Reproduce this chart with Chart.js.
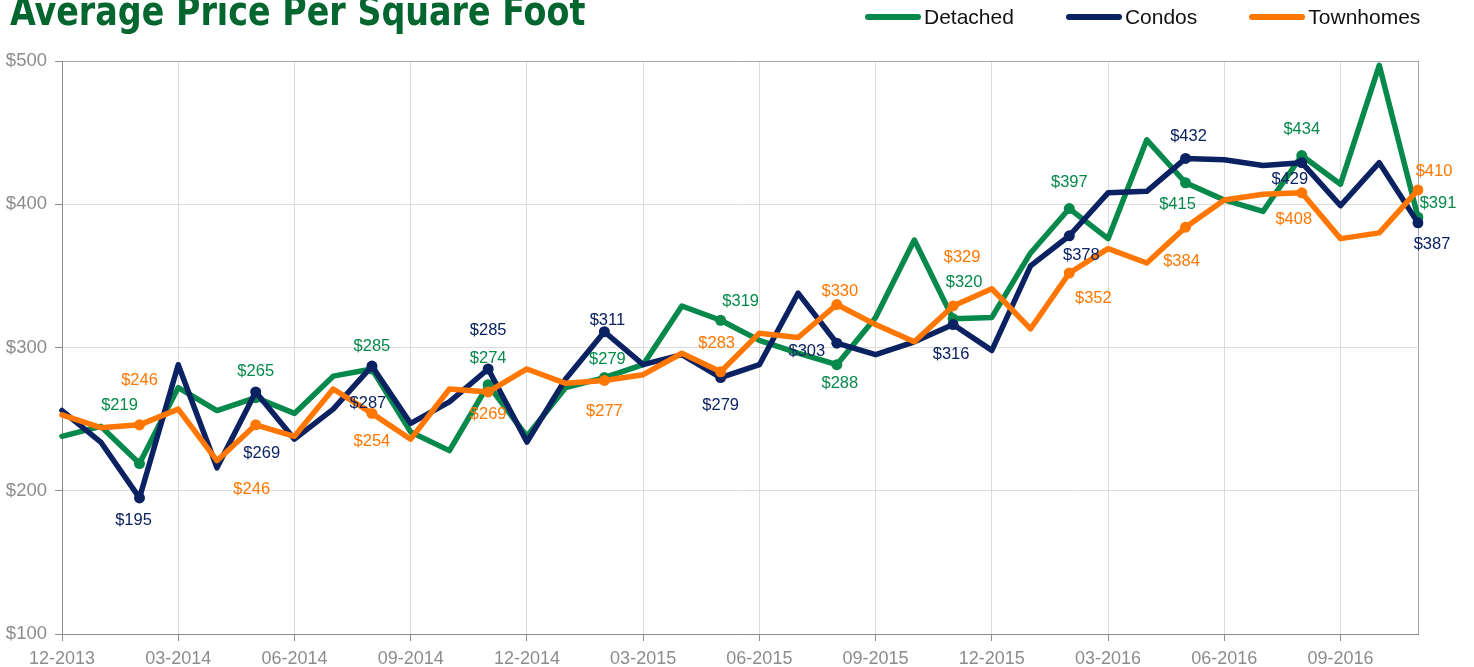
<!DOCTYPE html>
<html>
<head>
<meta charset="utf-8">
<title>Average Price Per Square Foot</title>
<script src="https://cdn.jsdelivr.net/npm/chart.js@4.4.1/dist/chart.umd.min.js"></script>
<style>
  html, body { margin: 0; padding: 0; background: #fff; overflow: hidden; }
  #wrap { position: relative; width: 1474px; height: 667px; }
  #title {
    position: absolute; left: 10px; top: -9px; margin: 0;
    font-family: "Liberation Sans Narrow", "DejaVu Sans Condensed", "Liberation Sans", sans-serif;
    font-stretch: condensed; font-weight: bold; font-size: 40px; line-height: 40px;
    color: #03662f; white-space: nowrap;
    transform: scaleX(0.927); transform-origin: 0 0;
  }
  #legend {
    position: absolute; left: 865px; top: 5px; display: flex; gap: 52px;
    font-family: "Liberation Sans", Arial, sans-serif; font-size: 21px; line-height: 24px; color: #111;
  }
  #legend .item { display: flex; align-items: center; gap: 3px; }
  #legend .swatch { width: 56px; height: 6px; border-radius: 3px; }
</style>
</head>
<body>
<div id="wrap">
  <canvas id="myChart"></canvas>
  <div id="title">Average Price Per Square Foot</div>
  <div id="legend"></div>
</div>
<script>
// months 12-2013 .. 11-2016
var months = [
  "12-2013", "01-2014", "02-2014", "03-2014", "04-2014", "05-2014", "06-2014", "07-2014", "08-2014",
  "09-2014", "10-2014", "11-2014", "12-2014", "01-2015", "02-2015", "03-2015", "04-2015", "05-2015",
  "06-2015", "07-2015", "08-2015", "09-2015", "10-2015", "11-2015", "12-2015", "01-2016", "02-2016",
  "03-2016", "04-2016", "05-2016", "06-2016", "07-2016", "08-2016", "09-2016", "10-2016", "11-2016"
];

var detached = [238, 245, 219, 272, 256, 265, 254, 280, 285, 241, 228, 274,
  238, 272, 279, 288, 329, 319, 305, 296, 288, 321, 375, 320,
  321, 366, 397, 376, 445, 415, 403, 395, 434, 414, 497, 391];
var condos = [256, 234, 195, 288, 216, 269, 236, 257, 287, 247, 262, 285,
  234, 278, 311, 288, 295, 279, 288, 338, 303, 295, 304, 316,
  298, 357, 378, 408, 409, 432, 431, 427, 429, 399, 429, 387];
var townhomes = [253, 244, 246, 257, 221, 246, 238, 271, 254, 236, 271, 269,
  285, 275, 277, 281, 296, 283, 310, 307, 330, 316, 304, 329,
  341, 313, 352, 369, 359, 384, 403, 407, 408, 376, 380, 410];

var yTicks = [100, 200, 300, 400, 500];

// label nudges (px) for the labelled points: index 2, 5, 8, ... 35
var detachedDx = [-20, 0, 0, 0, 3, 20, 3, 11, 0, -8, 0, 20];
var detachedDy = [-58, -26, -23, -26, -18, -19, 19, -36, -26, 22, -26, -14];
var condosDx = [-6, 6, -4, 0, 3, 0, -30, -2, 12, 3, -12, 14];
var condosDy = [23, 62, 37, -39, -11, 28, 8, 30, 20, -22, 17, 22];
var townDx = [0, -4, 0, 0, 0, -4, 3, 9, 24, -4, -8, 16];
var townDy = [-44, 65, 28, 23, 31, -28, -13, -49, 25, 34, 27, -18];

var GREEN = "#06894a", NAVY = "#0b2262", ORANGE = "#ff7700";
var AXIS = "#8c8c8c", GRID = "#dcdcdc";

function isMarked(i) { return i % 3 === 2; }

function series(label, values, color, order, dx, dy) {
  return {
    label: label,
    data: values,
    borderColor: color,
    backgroundColor: color,
    borderWidth: 5.5,
    borderJoinStyle: "round",
    borderCapStyle: "round",
    tension: 0,
    order: order,
    pointRadius: function (c) { return isMarked(c.dataIndex) ? 5.5 : 0; },
    pointHoverRadius: 0,
    pointBorderWidth: 0,
    pointBackgroundColor: color,
    labelDx: dx,
    labelDy: dy
  };
}

var legendBox = document.getElementById("legend");
[["Detached", GREEN], ["Condos", NAVY], ["Townhomes", ORANGE]].forEach(function (it) {
  var d = document.createElement("div");
  d.className = "item";
  d.innerHTML = '<span class="swatch" style="background:' + it[1] + '"></span><span>' + it[0] + "</span>";
  legendBox.appendChild(d);
});

var pointLabels = {
  id: "pointLabels",
  afterDatasetsDraw: function (chart) {
    var ctx = chart.ctx;
    ctx.save();
    ctx.font = "16.5px 'Liberation Sans', Arial, sans-serif";
    ctx.textAlign = "center";
    ctx.textBaseline = "middle";
    chart.data.datasets.forEach(function (ds, di) {
      var meta = chart.getDatasetMeta(di);
      ctx.fillStyle = ds.borderColor;
      var k = 0;
      ds.data.forEach(function (v, i) {
        if (!isMarked(i)) return;
        var p = meta.data[i];
        ctx.fillText("$" + Math.round(v), p.x + ds.labelDx[k], p.y + ds.labelDy[k]);
        k++;
      });
    });
    ctx.restore();
  }
};

var ctx = document.getElementById("myChart").getContext("2d");
var myChart = new Chart(ctx, {
  type: "line",
  data: {
    labels: months,
    datasets: [
      series("Detached", detached, GREEN, 2, detachedDx, detachedDy),
      series("Condos", condos, NAVY, 1, condosDx, condosDy),
      series("Townhomes", townhomes, ORANGE, 0, townDx, townDy)
    ]
  },
  plugins: [pointLabels],
  options: {
    responsive: true,
    maintainAspectRatio: false,
    animation: false,
    events: [],
    layout: { padding: { top: 61, right: 56, left: 0, bottom: 0 } },
    plugins: {
      legend: { display: false },
      tooltip: { enabled: false }
    },
    scales: {
      x: {
        offset: false,
        afterFit: function (s) { s.height = 33; },
        border: { color: AXIS, width: 1 },
        grid: {
          color: function (c) {
            if (c.index === months.length - 1) return "#a6a6a6";
            return c.index % 3 === 0 ? GRID : "rgba(0,0,0,0)";
          },
          tickColor: function (c) { return c.index % 3 === 0 && c.index < months.length - 1 ? AXIS : "rgba(0,0,0,0)"; },
          tickLength: 7
        },
        ticks: {
          autoSkip: false,
          maxRotation: 0,
          padding: 7,
          color: AXIS,
          font: { family: "'Liberation Sans', Arial, sans-serif", size: 18 },
          callback: function (val, i) { return i % 3 === 0 ? this.getLabelForValue(val) : ""; }
        }
      },
      y: {
        min: yTicks[0],
        max: yTicks[yTicks.length - 1],
        afterFit: function (s) { s.width = 62; },
        afterBuildTicks: function (s) { s.ticks = yTicks.map(function (v) { return { value: v }; }); },
        border: { color: AXIS, width: 1 },
        grid: {
          color: function (c) { return c.tick && c.tick.value === 500 ? "#a6a6a6" : GRID; },
          tickColor: AXIS,
          tickLength: 7
        },
        ticks: {
          padding: 8,
          color: AXIS,
          font: { family: "'Liberation Sans', Arial, sans-serif", size: 18.5 },
          callback: function (v) { return "$" + v; }
        }
      }
    }
  }
});
</script>
</body>
</html>
